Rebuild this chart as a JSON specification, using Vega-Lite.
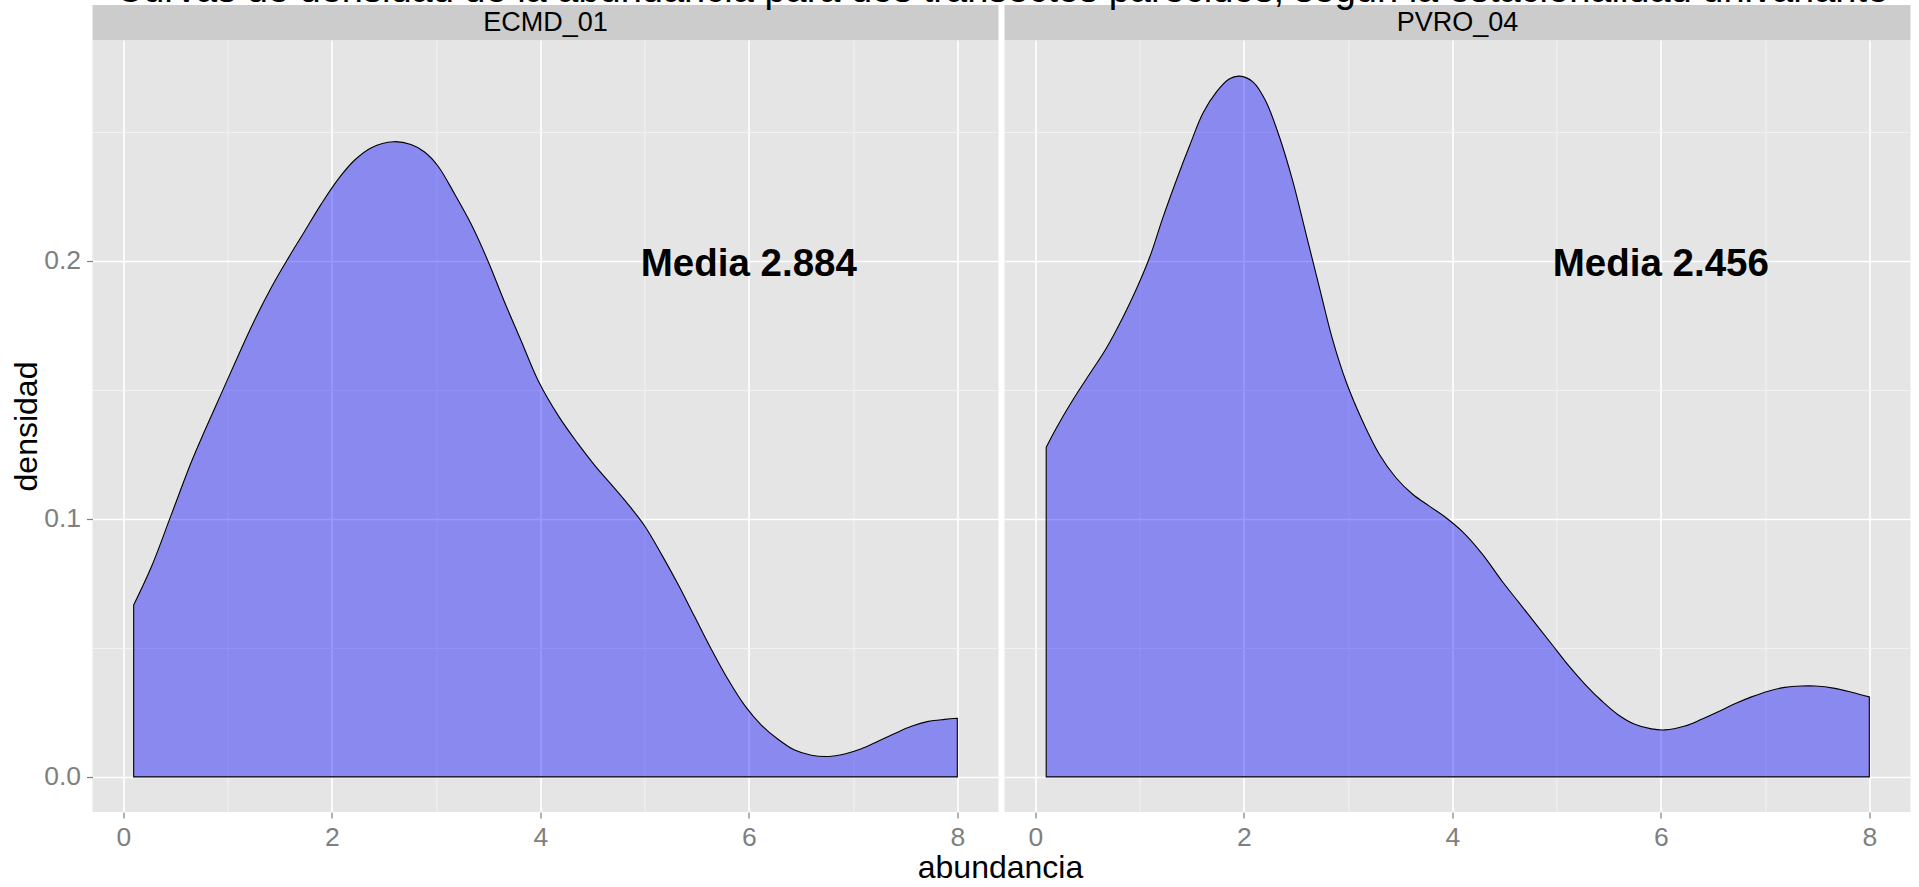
{
  "$schema": "https://vega.github.io/schema/vega-lite/v6.json",
  "autosize": "none",
  "padding": {"left": 92.5, "top": 5, "right": 1826.5, "bottom": 882},
  "background": "white",
  "title": {
    "text": "Curvas de densidad de la abundancia para dos transectos parecidos, según la estacionalidad univariante",
    "fontSize": 38, "font": "Liberation Sans", "fontWeight": "normal", "color": "black",
    "anchor": "middle", "frame": "bounds", "baseline": "alphabetic", "offset": -35, "dx": 41.5, "zindex": 1
  },
  "datasets": {
    "densidades": [
      {"transecto": "ECMD_01", "abundancia": 0.1, "densidad": 0.0666},
      {"transecto": "ECMD_01", "abundancia": 0.27, "densidad": 0.0814},
      {"transecto": "ECMD_01", "abundancia": 0.46, "densidad": 0.1015},
      {"transecto": "ECMD_01", "abundancia": 0.65, "densidad": 0.1217},
      {"transecto": "ECMD_01", "abundancia": 0.78, "densidad": 0.134},
      {"transecto": "ECMD_01", "abundancia": 0.94, "densidad": 0.1485},
      {"transecto": "ECMD_01", "abundancia": 1.1, "densidad": 0.163},
      {"transecto": "ECMD_01", "abundancia": 1.26, "densidad": 0.177},
      {"transecto": "ECMD_01", "abundancia": 1.42, "densidad": 0.1896},
      {"transecto": "ECMD_01", "abundancia": 1.58, "densidad": 0.2008},
      {"transecto": "ECMD_01", "abundancia": 1.74, "densidad": 0.2114},
      {"transecto": "ECMD_01", "abundancia": 1.9, "densidad": 0.222},
      {"transecto": "ECMD_01", "abundancia": 2.06, "densidad": 0.2315},
      {"transecto": "ECMD_01", "abundancia": 2.22, "densidad": 0.239},
      {"transecto": "ECMD_01", "abundancia": 2.38, "densidad": 0.2438},
      {"transecto": "ECMD_01", "abundancia": 2.59, "densidad": 0.2461},
      {"transecto": "ECMD_01", "abundancia": 2.76, "densidad": 0.245},
      {"transecto": "ECMD_01", "abundancia": 2.89, "densidad": 0.2421},
      {"transecto": "ECMD_01", "abundancia": 3.02, "densidad": 0.2366},
      {"transecto": "ECMD_01", "abundancia": 3.18, "densidad": 0.2257},
      {"transecto": "ECMD_01", "abundancia": 3.34, "densidad": 0.2139},
      {"transecto": "ECMD_01", "abundancia": 3.5, "densidad": 0.1997},
      {"transecto": "ECMD_01", "abundancia": 3.66, "densidad": 0.1837},
      {"transecto": "ECMD_01", "abundancia": 3.82, "densidad": 0.1686},
      {"transecto": "ECMD_01", "abundancia": 3.98, "densidad": 0.1535},
      {"transecto": "ECMD_01", "abundancia": 4.18, "densidad": 0.1395},
      {"transecto": "ECMD_01", "abundancia": 4.36, "densidad": 0.1292},
      {"transecto": "ECMD_01", "abundancia": 4.52, "densidad": 0.1208},
      {"transecto": "ECMD_01", "abundancia": 4.68, "densidad": 0.1133},
      {"transecto": "ECMD_01", "abundancia": 4.84, "densidad": 0.1057},
      {"transecto": "ECMD_01", "abundancia": 5.0, "densidad": 0.0973},
      {"transecto": "ECMD_01", "abundancia": 5.16, "densidad": 0.0864},
      {"transecto": "ECMD_01", "abundancia": 5.32, "densidad": 0.0747},
      {"transecto": "ECMD_01", "abundancia": 5.48, "densidad": 0.0621},
      {"transecto": "ECMD_01", "abundancia": 5.64, "densidad": 0.0495},
      {"transecto": "ECMD_01", "abundancia": 5.8, "densidad": 0.0378},
      {"transecto": "ECMD_01", "abundancia": 5.96, "densidad": 0.0277},
      {"transecto": "ECMD_01", "abundancia": 6.12, "densidad": 0.0201},
      {"transecto": "ECMD_01", "abundancia": 6.28, "densidad": 0.0146},
      {"transecto": "ECMD_01", "abundancia": 6.44, "densidad": 0.0104},
      {"transecto": "ECMD_01", "abundancia": 6.6, "densidad": 0.0084},
      {"transecto": "ECMD_01", "abundancia": 6.76, "densidad": 0.0079},
      {"transecto": "ECMD_01", "abundancia": 6.92, "densidad": 0.0089},
      {"transecto": "ECMD_01", "abundancia": 7.08, "densidad": 0.0109},
      {"transecto": "ECMD_01", "abundancia": 7.24, "densidad": 0.0138},
      {"transecto": "ECMD_01", "abundancia": 7.4, "densidad": 0.0168},
      {"transecto": "ECMD_01", "abundancia": 7.56, "densidad": 0.0196},
      {"transecto": "ECMD_01", "abundancia": 7.72, "densidad": 0.0215},
      {"transecto": "ECMD_01", "abundancia": 7.88, "densidad": 0.0223},
      {"transecto": "ECMD_01", "abundancia": 8.0, "densidad": 0.0227},
      {"transecto": "PVRO_04", "abundancia": 0.105, "densidad": 0.1277},
      {"transecto": "PVRO_04", "abundancia": 0.2, "densidad": 0.135},
      {"transecto": "PVRO_04", "abundancia": 0.36, "densidad": 0.146},
      {"transecto": "PVRO_04", "abundancia": 0.52, "densidad": 0.156},
      {"transecto": "PVRO_04", "abundancia": 0.68, "densidad": 0.166},
      {"transecto": "PVRO_04", "abundancia": 0.84, "densidad": 0.178},
      {"transecto": "PVRO_04", "abundancia": 0.97, "densidad": 0.189},
      {"transecto": "PVRO_04", "abundancia": 1.1, "densidad": 0.2016},
      {"transecto": "PVRO_04", "abundancia": 1.22, "densidad": 0.2162},
      {"transecto": "PVRO_04", "abundancia": 1.35, "densidad": 0.2308},
      {"transecto": "PVRO_04", "abundancia": 1.48, "densidad": 0.2445},
      {"transecto": "PVRO_04", "abundancia": 1.61, "densidad": 0.2573},
      {"transecto": "PVRO_04", "abundancia": 1.74, "densidad": 0.2655},
      {"transecto": "PVRO_04", "abundancia": 1.86, "densidad": 0.2704},
      {"transecto": "PVRO_04", "abundancia": 1.96, "densidad": 0.2715},
      {"transecto": "PVRO_04", "abundancia": 2.09, "densidad": 0.2692},
      {"transecto": "PVRO_04", "abundancia": 2.21, "densidad": 0.2619},
      {"transecto": "PVRO_04", "abundancia": 2.34, "densidad": 0.2482},
      {"transecto": "PVRO_04", "abundancia": 2.47, "densidad": 0.2308},
      {"transecto": "PVRO_04", "abundancia": 2.6, "densidad": 0.2099},
      {"transecto": "PVRO_04", "abundancia": 2.73, "densidad": 0.1889},
      {"transecto": "PVRO_04", "abundancia": 2.85, "densidad": 0.1697},
      {"transecto": "PVRO_04", "abundancia": 2.98, "densidad": 0.1533},
      {"transecto": "PVRO_04", "abundancia": 3.14, "densidad": 0.1378},
      {"transecto": "PVRO_04", "abundancia": 3.3, "densidad": 0.125},
      {"transecto": "PVRO_04", "abundancia": 3.46, "densidad": 0.1159},
      {"transecto": "PVRO_04", "abundancia": 3.62, "densidad": 0.1095},
      {"transecto": "PVRO_04", "abundancia": 3.78, "densidad": 0.1049},
      {"transecto": "PVRO_04", "abundancia": 3.94, "densidad": 0.1004},
      {"transecto": "PVRO_04", "abundancia": 4.1, "densidad": 0.0949},
      {"transecto": "PVRO_04", "abundancia": 4.29, "densidad": 0.0862},
      {"transecto": "PVRO_04", "abundancia": 4.48, "densidad": 0.0757},
      {"transecto": "PVRO_04", "abundancia": 4.64, "densidad": 0.0675},
      {"transecto": "PVRO_04", "abundancia": 4.8, "densidad": 0.0593},
      {"transecto": "PVRO_04", "abundancia": 4.96, "densidad": 0.0511},
      {"transecto": "PVRO_04", "abundancia": 5.12, "densidad": 0.0429},
      {"transecto": "PVRO_04", "abundancia": 5.28, "densidad": 0.0356},
      {"transecto": "PVRO_04", "abundancia": 5.44, "densidad": 0.0292},
      {"transecto": "PVRO_04", "abundancia": 5.59, "densidad": 0.0241},
      {"transecto": "PVRO_04", "abundancia": 5.75, "densidad": 0.0204},
      {"transecto": "PVRO_04", "abundancia": 5.91, "densidad": 0.0186},
      {"transecto": "PVRO_04", "abundancia": 6.04, "densidad": 0.0182},
      {"transecto": "PVRO_04", "abundancia": 6.23, "densidad": 0.0197},
      {"transecto": "PVRO_04", "abundancia": 6.39, "densidad": 0.0223},
      {"transecto": "PVRO_04", "abundancia": 6.55, "densidad": 0.0252},
      {"transecto": "PVRO_04", "abundancia": 6.71, "densidad": 0.0283},
      {"transecto": "PVRO_04", "abundancia": 6.87, "densidad": 0.031},
      {"transecto": "PVRO_04", "abundancia": 7.03, "densidad": 0.0332},
      {"transecto": "PVRO_04", "abundancia": 7.19, "densidad": 0.0347},
      {"transecto": "PVRO_04", "abundancia": 7.35, "densidad": 0.0352},
      {"transecto": "PVRO_04", "abundancia": 7.48, "densidad": 0.0352},
      {"transecto": "PVRO_04", "abundancia": 7.67, "densidad": 0.0343},
      {"transecto": "PVRO_04", "abundancia": 7.83, "densidad": 0.0328},
      {"transecto": "PVRO_04", "abundancia": 8.0, "densidad": 0.031}
    ],
    "medias": [
      {"transecto": "ECMD_01", "media": 2.884, "etiqueta": "Media 2.884"},
      {"transecto": "PVRO_04", "media": 2.456, "etiqueta": "Media 2.456"}
    ]
  },
  "vconcat": [
    {
      "title": {
        "text": "abundancia", "orient": "bottom", "anchor": "middle", "frame": "bounds",
        "fontSize": 32, "font": "Liberation Sans", "fontWeight": "normal", "color": "black",
        "baseline": "alphabetic", "offset": 27, "dx": 40
      },
      "spacing": 6,
      "hconcat": [
        {
          "spacing": 0,
          "bounds": "flush",
          "vconcat": [
            {
              "width": 906, "height": 35,
              "data": {"name": "medias"},
              "transform": [{"filter": "datum.transecto == 'ECMD_01'"}],
              "mark": {"type": "text", "fontSize": 27, "font": "Liberation Sans", "color": "black", "baseline": "middle", "align": "center"},
              "encoding": {"text": {"field": "transecto", "type": "nominal"}},
              "view": {"fill": "#CCCCCC", "stroke": null}
            },
            {
              "width": 906, "height": 772,
              "view": {"fill": "#E5E5E5", "stroke": null},
              "layer": [
                {
                  "data": {"name": "densidades"},
                  "transform": [{"filter": "datum.transecto == 'ECMD_01'"}],
                  "mark": {"type": "area", "fill": "#0000FF", "fillOpacity": 0.4, "stroke": "black", "strokeWidth": 1.1, "interpolate": "catmull-rom"},
                  "encoding": {
                    "x": {
                      "field": "abundancia", "type": "quantitative",
                      "scale": {"domain": [-0.295, 8.395], "nice": false, "zero": false},
                      "axis": {
                        "values": [0, 1, 2, 3, 4, 5, 6, 7, 8],
                        "format": "d",
                        "labelExpr": "datum.value % 2 == 0 ? datum.label : ''",
                        "title": null,
                        "tickColor": {"condition": {"test": "datum.value % 2 == 0", "value": "#7F7F7F"}, "value": "transparent"},
                        "gridColor": {"condition": {"test": "datum.value % 2 == 0", "value": "#FFFFFF"}, "value": "#F2F2F2"},
                        "gridWidth": {"condition": {"test": "datum.value % 2 == 0", "value": 1.6}, "value": 1}
                      }
                    },
                    "y": {
                      "field": "densidad", "type": "quantitative",
                      "scale": {"domain": [-0.0136, 0.2855], "nice": false, "zero": false},
                      "axis": {
                        "values": [0, 0.05, 0.1, 0.15, 0.2, 0.25],
                        "format": ".1f",
                        "labelExpr": "abs(datum.value * 10 - round(datum.value * 10)) < 0.001 ? datum.label : ''",
                        "title": "densidad", "titleAngle": 270, "titleX": -56, "titleY": 386, "titleBaseline": "alphabetic", "titleAlign": "center",
                        "tickColor": {"condition": {"test": "abs(datum.value * 10 - round(datum.value * 10)) < 0.001", "value": "#7F7F7F"}, "value": "transparent"},
                        "gridColor": {"condition": {"test": "abs(datum.value * 10 - round(datum.value * 10)) < 0.001", "value": "#FFFFFF"}, "value": "#F2F2F2"},
                        "gridWidth": {"condition": {"test": "abs(datum.value * 10 - round(datum.value * 10)) < 0.001", "value": 1.6}, "value": 1}
                      }
                    },
                    "y2": {"datum": 0}
                  }
                },
                {
                  "data": {"name": "medias"},
                  "transform": [{"filter": "datum.transecto == 'ECMD_01'"}],
                  "mark": {"type": "text", "fontSize": 38.5, "fontWeight": "bold", "font": "Liberation Sans", "color": "black", "align": "center", "baseline": "middle", "dy": 3},
                  "encoding": {
                    "x": {"datum": 6, "type": "quantitative"},
                    "y": {"datum": 0.2, "type": "quantitative"},
                    "text": {"field": "etiqueta", "type": "nominal"}
                  }
                }
              ]
            }
          ]
        },
        {
          "spacing": 0,
          "bounds": "flush",
          "vconcat": [
            {
              "width": 906, "height": 35,
              "data": {"name": "medias"},
              "transform": [{"filter": "datum.transecto == 'PVRO_04'"}],
              "mark": {"type": "text", "fontSize": 27, "font": "Liberation Sans", "color": "black", "baseline": "middle", "align": "center"},
              "encoding": {"text": {"field": "transecto", "type": "nominal"}},
              "view": {"fill": "#CCCCCC", "stroke": null}
            },
            {
              "width": 906, "height": 772,
              "view": {"fill": "#E5E5E5", "stroke": null},
              "layer": [
                {
                  "data": {"name": "densidades"},
                  "transform": [{"filter": "datum.transecto == 'PVRO_04'"}],
                  "mark": {"type": "area", "fill": "#0000FF", "fillOpacity": 0.4, "stroke": "black", "strokeWidth": 1.1, "interpolate": "catmull-rom"},
                  "encoding": {
                    "x": {
                      "field": "abundancia", "type": "quantitative",
                      "scale": {"domain": [-0.295, 8.395], "nice": false, "zero": false},
                      "axis": {
                        "values": [0, 1, 2, 3, 4, 5, 6, 7, 8],
                        "format": "d",
                        "labelExpr": "datum.value % 2 == 0 ? datum.label : ''",
                        "title": null,
                        "tickColor": {"condition": {"test": "datum.value % 2 == 0", "value": "#7F7F7F"}, "value": "transparent"},
                        "gridColor": {"condition": {"test": "datum.value % 2 == 0", "value": "#FFFFFF"}, "value": "#F2F2F2"},
                        "gridWidth": {"condition": {"test": "datum.value % 2 == 0", "value": 1.6}, "value": 1}
                      }
                    },
                    "y": {
                      "field": "densidad", "type": "quantitative",
                      "scale": {"domain": [-0.0136, 0.2855], "nice": false, "zero": false},
                      "axis": {
                        "values": [0, 0.05, 0.1, 0.15, 0.2, 0.25],
                        "labels": false, "ticks": false, "title": null,
                        "gridColor": {"condition": {"test": "abs(datum.value * 10 - round(datum.value * 10)) < 0.001", "value": "#FFFFFF"}, "value": "#F2F2F2"},
                        "gridWidth": {"condition": {"test": "abs(datum.value * 10 - round(datum.value * 10)) < 0.001", "value": 1.6}, "value": 1}
                      }
                    },
                    "y2": {"datum": 0}
                  }
                },
                {
                  "data": {"name": "medias"},
                  "transform": [{"filter": "datum.transecto == 'PVRO_04'"}],
                  "mark": {"type": "text", "fontSize": 38.5, "fontWeight": "bold", "font": "Liberation Sans", "color": "black", "align": "center", "baseline": "middle", "dy": 3},
                  "encoding": {
                    "x": {"datum": 6, "type": "quantitative"},
                    "y": {"datum": 0.2, "type": "quantitative"},
                    "text": {"field": "etiqueta", "type": "nominal"}
                  }
                }
              ]
            }
          ]
        }
      ]
    }
  ],
  "config": {
    "font": "Liberation Sans",
    "axis": {
      "domain": false,
      "grid": true,
      "labelFont": "Liberation Sans",
      "labelFontSize": 26.5,
      "labelColor": "#7F7F7F",
      "labelPadding": 6,
      "labelFlush": false,
      "labelOverlap": false,
      "tickSize": 6,
      "tickWidth": 1.2,
      "titleFont": "Liberation Sans",
      "titleFontSize": 32,
      "titleFontWeight": "normal",
      "titleColor": "black"
    }
  }
}
